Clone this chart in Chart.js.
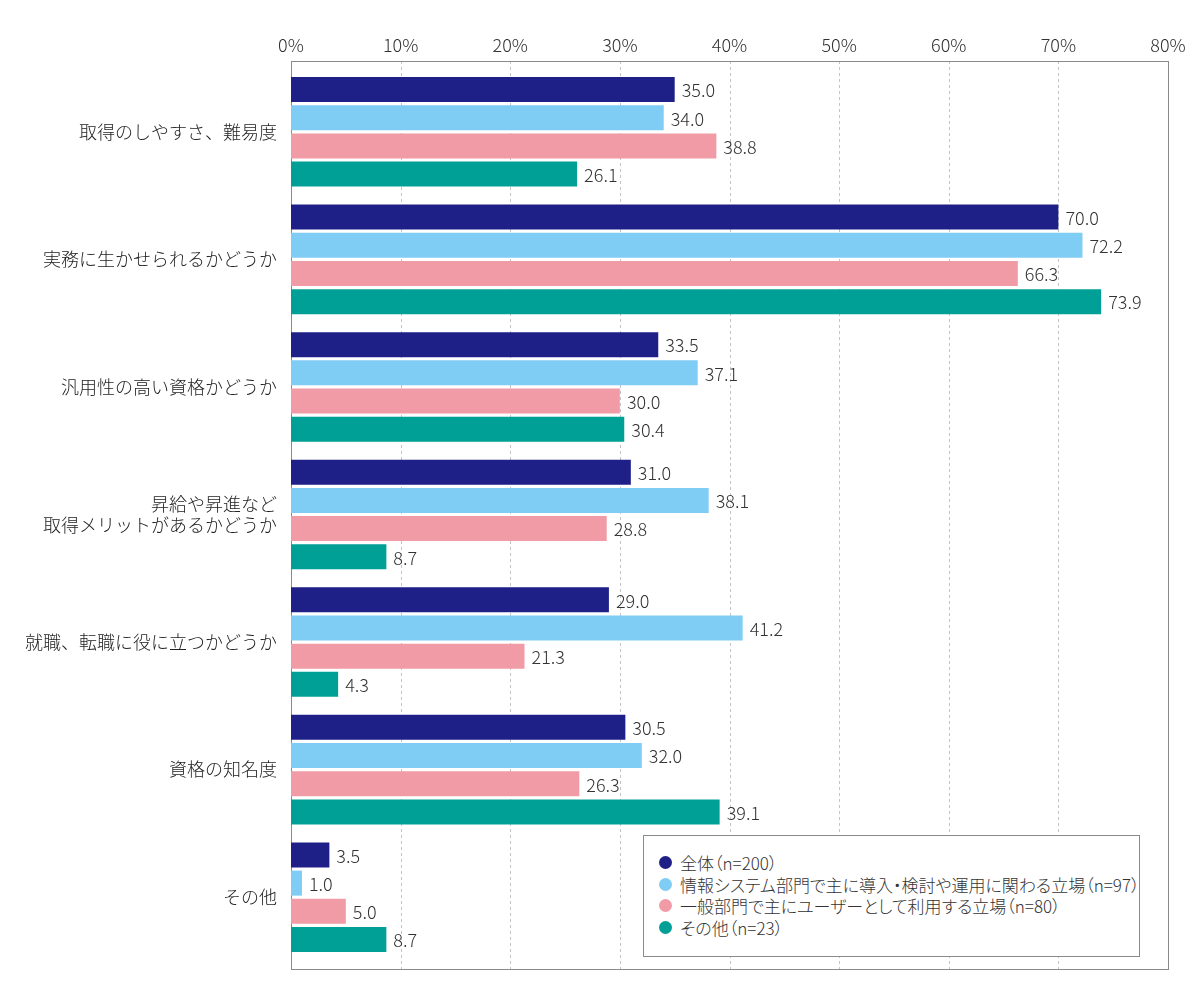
<!DOCTYPE html>
<html lang="ja">
<head>
<meta charset="utf-8">
<title>資格選びで重視する点</title>
<script src="https://cdn.jsdelivr.net/npm/chart.js@4.4.1/dist/chart.umd.min.js"></script>
<style>
  html, body { margin: 0; padding: 0; background: #fff; }
  .wrap { position: relative; width: 1200px; height: 1000px; }
  #chart { display: block; }
  .legend {
    position: absolute; left: 643px; top: 835px; width: 497px; height: 122px;
    box-sizing: border-box; border: 1px solid #8a8a8a; background: #fff;
    padding: 16px 0 0 15px;
    font-family: "Noto Sans CJK JP", "Noto Sans", sans-serif; font-size: 17px; font-weight: 300;
    font-feature-settings: "palt"; color: #333;
  }
  .legend .item { display: flex; align-items: center; height: 21.5px; white-space: nowrap; }
  .legend .dot { width: 13px; height: 13px; border-radius: 50%; margin-right: 8px; flex: none; }
</style>
</head>
<body>
<div class="wrap">
  <canvas id="chart" width="1200" height="1000"></canvas>
  <div class="legend" id="legend"></div>
</div>
<script>
// カテゴリ
const categories = [
  '取得のしやすさ、難易度',
  '実務に生かせられるかどうか',
  '汎用性の高い資格かどうか',
  ['昇給や昇進など', '取得メリットがあるかどうか'],
  '就職、転職に役に立つかどうか',
  '資格の知名度',
  'その他'
];

// 系列ラベル
const seriesLabels = [
  '全体（n=200）',
  '情報システム部門で主に導入・検討や運用に関わる立場（n=97）',
  '一般部門で主にユーザーとして利用する立場（n=80）',
  'その他（n=23）'
];

// 値（%）
const allValues = [35.0, 70.0, 33.5, 31.0, 29.0, 30.5, 3.5];
const itValues = [34.0, 72.2, 37.1, 38.1, 41.2, 32.0, 1.0];
const userValues = [38.8, 66.3, 30.0, 28.8, 21.3, 26.3, 5.0];
const otherValues = [26.1, 73.9, 30.4, 8.7, 4.3, 39.1, 8.7];

// 目盛り
const xTicks = [0, 10, 20, 30, 40, 50, 60, 70, 80];

const COLORS = ['#1e2088', '#7fccf4', '#f19ba6', '#00a096'];
const FONT = '"Noto Sans CJK JP", "Noto Sans", sans-serif';

// 枠とグリッド線（枠はプロット領域より少し上下に広い）
const framePlugin = {
  id: 'frame',
  beforeDatasetsDraw(chart) {
    const { ctx, chartArea } = chart;
    const x = chart.scales.x;
    const top = chartArea.top - 7;
    const bottom = chartArea.bottom + 8;
    ctx.save();
    ctx.strokeStyle = '#c4c4c4';
    ctx.lineWidth = 1;
    ctx.setLineDash([3, 3]);
    xTicks.slice(1, -1).forEach(v => {
      const px = Math.round(x.getPixelForValue(v)) + 0.5;
      ctx.beginPath();
      ctx.moveTo(px, top);
      ctx.lineTo(px, bottom);
      ctx.stroke();
    });
    ctx.setLineDash([]);
    ctx.strokeStyle = '#8a8a8a';
    ctx.strokeRect(Math.round(chartArea.left) + 0.5, Math.round(top) + 0.5,
      Math.round(chartArea.right - chartArea.left), Math.round(bottom - top));
    ctx.restore();
  }
};

// 数値ラベル
const valueLabelPlugin = {
  id: 'valueLabels',
  afterDatasetsDraw(chart) {
    const { ctx } = chart;
    ctx.save();
    ctx.font = '300 18px ' + FONT;
    ctx.fillStyle = '#333';
    ctx.textAlign = 'left';
    ctx.textBaseline = 'middle';
    chart.data.datasets.forEach((ds, i) => {
      chart.getDatasetMeta(i).data.forEach((bar, j) => {
        ctx.fillText(ds.data[j].toFixed(1), bar.x + 7, bar.y + 1);
      });
    });
    ctx.restore();
  }
};

const seriesValues = [allValues, itValues, userValues, otherValues];

new Chart(document.getElementById('chart').getContext('2d'), {
  type: 'bar',
  data: {
    labels: categories,
    datasets: seriesValues.map((vals, i) => ({
      label: seriesLabels[i],
      data: vals,
      backgroundColor: COLORS[i],
      borderWidth: 0,
      categoryPercentage: 0.884,
      barPercentage: 0.887
    }))
  },
  options: {
    indexAxis: 'y',
    responsive: false,
    animation: false,
    devicePixelRatio: 1,
    layout: { padding: { left: 0, top: 0, right: 32, bottom: 39 } },
    plugins: {
      legend: { display: false },
      tooltip: { enabled: false }
    },
    scales: {
      x: {
        position: 'top',
        min: 0,
        max: 80,
        afterFit: s => { s.height = 68; },
        afterBuildTicks: s => { s.ticks = xTicks.map(v => ({ value: v })); },
        grid: { display: false, drawTicks: false },
        border: { display: false },
        ticks: {
          padding: 12,
          color: '#333',
          font: { family: FONT, size: 18, weight: 300 },
          callback: v => v + '%'
        }
      },
      y: {
        afterFit: s => { s.width = 291; },
        grid: { display: false, drawTicks: false },
        border: { display: false },
        ticks: {
          padding: 14,
          color: '#222',
          font: { family: FONT, size: 18, weight: 300, lineHeight: 1.14 }
        }
      }
    }
  },
  plugins: [framePlugin, valueLabelPlugin]
});

// 凡例（グラフ内右下）
const legendEl = document.getElementById('legend');
seriesLabels.forEach((label, i) => {
  const item = document.createElement('div');
  item.className = 'item';
  const dot = document.createElement('span');
  dot.className = 'dot';
  dot.style.background = COLORS[i];
  const text = document.createElement('span');
  text.textContent = label;
  item.appendChild(dot);
  item.appendChild(text);
  legendEl.appendChild(item);
});
</script>
</body>
</html>
